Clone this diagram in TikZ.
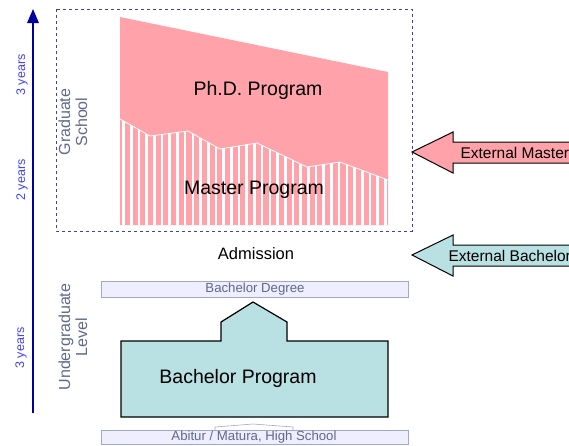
\documentclass[tikz,border=0pt]{standalone}
\usepackage{fontspec}
\setmainfont{Liberation Sans}
\definecolor{phdpink}{RGB}{255,162,170}
\definecolor{bachteal}{RGB}{185,224,226}
\definecolor{barfill}{RGB}{238,238,255}
\definecolor{barline}{RGB}{160,168,208}
\definecolor{levelgray}{RGB}{96,104,140}
\definecolor{yearblue}{RGB}{64,64,255}
\definecolor{axisnavy}{RGB}{0,0,160}
\definecolor{boxblue}{RGB}{60,60,210}
\tikzset{
  bigtext/.style={font=\fontsize{19.5}{22}\selectfont},
  yeartext/.style={rotate=90,text=yearblue,font=\fontsize{12.5}{14}\selectfont},
  leveltext/.style={rotate=90,align=center,text=levelgray,font=\fontsize{16}{17}\selectfont},
  bartext/.style={text=levelgray,font=\fontsize{13.2}{14}\selectfont}
}
\begin{document}
\begin{tikzpicture}[x=1pt,y=-1pt]
  \useasboundingbox (0,0) rectangle (569,445);
  \clip (0,0) rectangle (569,445);
  % time axis
  \draw [axisnavy,line width=2pt] (33,413) -- (33,20);
  \fill [axisnavy] (33,9) -- (39,23) -- (27,23) -- cycle;
  \node [yeartext] (y3top) at (22,75) {3 years};
  \node [yeartext] (y2) at (22,180) {2 years};
  \node [yeartext] (y3bot) at (21,348) {3 years};
  \node [leveltext] (grad) at (73,122) {Graduate\\School};
  \node [leveltext] (ugrad) at (73,337) {Undergraduate\\Level};
  % graduate school
  \draw [boxblue,dashed,line width=0.8pt] (56,9) rectangle (412,231);
  \fill [phdpink] (120,17) -- (388,72) -- (388,225) -- (120,225) -- cycle;
  \begin{scope}
    \clip (120,119) -- (150,136) -- (188,131) -- (220,149) -- (257,143)
      -- (307,167) -- (340,162) -- (388,180) -- (388,225) -- (120,225) -- cycle;
    \foreach \x in {123.5,131.2,...,390}
      \draw [white,line width=2.6pt] (\x,100) -- (\x,230);
  \end{scope}
  \draw [white,line width=0.8pt] (120,119) -- (150,136) -- (188,131) -- (220,149)
    -- (257,143) -- (307,167) -- (340,162) -- (388,180);
  \node [bigtext] (phd) at (258,90) {Ph.D. Program};
  \node [bigtext] (master) at (254,190) {Master Program};
  % external entries
  \filldraw [black,line width=1pt,fill=phdpink] (412,152) -- (453,132) -- (453,142)
    -- (580,142) -- (580,163) -- (453,163) -- (453,173) -- cycle;
  \node [anchor=west,font=\fontsize{15.5}{17}\selectfont] (extmaster) at (457,153) {External Master};
  \filldraw [black,line width=1pt,fill=bachteal] (412,255) -- (453,235) -- (453,245)
    -- (580,245) -- (580,266) -- (453,266) -- (453,276) -- cycle;
  \node [anchor=west,font=\fontsize{15.5}{17}\selectfont] (extbach) at (445,256) {External Bachelor};
  \node [font=\fontsize{16.5}{18}\selectfont] (admission) at (256,254) {Admission};
  % undergraduate level
  \filldraw [barline,line width=0.8pt,fill=barfill] (101,281) rectangle (408,297);
  \node [bartext] (bdegree) at (255,289) {Bachelor Degree};
  \filldraw [black,line width=1.2pt,fill=bachteal] (121,341) -- (221,341) -- (221,322)
    -- (253,302) -- (287,322) -- (287,341) -- (388,341) -- (388,417) -- (121,417) -- cycle;
  \node [bigtext] (bachelor) at (238,378) {Bachelor Program};
  \draw [barline,line width=0.6pt] (215,431) -- (215,427) -- (253,424) -- (293,427) -- (293,431);
  \filldraw [barline,line width=0.8pt,fill=barfill] (101,430) rectangle (408,444);
  \node [bartext] (abitur) at (254,437) {Abitur / Matura, High School};
\end{tikzpicture}
\end{document}
